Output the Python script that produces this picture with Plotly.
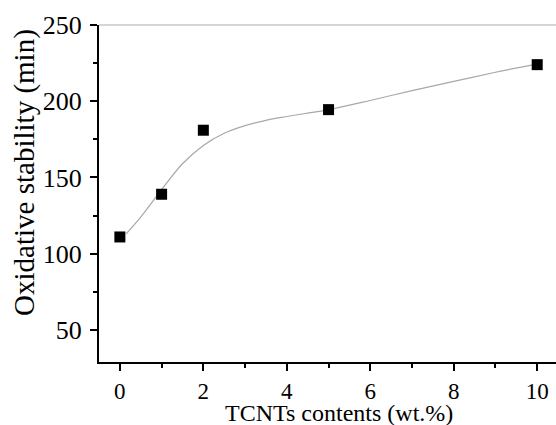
import plotly.graph_objects as go

# measured points
content_wt = [0, 1, 2, 5, 10]
oxidative_stability = [111, 139, 181, 194.5, 224]

# fitted curve
fit_x = [0.15, 0.5, 1.0, 1.5, 2.0, 2.5, 3.0, 3.5, 4.0, 5.0, 6.0, 7.0, 8.0, 9.0, 10.0]
fit_y = [113, 124, 142, 159, 171, 179, 184, 187.5, 190, 194.5, 200.5, 207, 213, 219, 224.5]

x_ticks = [0, 2, 4, 6, 8, 10]
y_ticks = [50, 100, 150, 200, 250]

x_title = "TCNTs contents (wt.%)"
y_title = "Oxidative stability (min)"

FONT = "Liberation Serif"

fig = go.Figure()
fig.add_trace(go.Scatter(x=fit_x, y=fit_y, mode="lines",
                         line=dict(color="#a8a8a8", width=1.2, shape="spline"),
                         showlegend=False, hoverinfo="skip"))
fig.add_trace(go.Scatter(x=content_wt, y=oxidative_stability, mode="markers",
                         marker=dict(symbol="square", size=11, color="black"),
                         showlegend=False))

fig.update_layout(
    width=556, height=425,
    margin=dict(l=99, r=0, t=25, b=63),
    plot_bgcolor="white", paper_bgcolor="white",
    font=dict(family=FONT, size=25, color="black"),
    xaxis=dict(range=[-0.5, 10.45], tickvals=x_ticks, showgrid=False, zeroline=False,
               showline=True, linecolor="black", linewidth=2,
               ticks="outside", ticklen=7, tickwidth=2, tickcolor="black",
               minor=dict(dtick=1, ticks="outside", ticklen=4, tickwidth=2, tickcolor="black"),
               tickfont=dict(family=FONT, size=23)),
    yaxis=dict(range=[29, 250], tickvals=y_ticks, showgrid=False, zeroline=False,
               showline=True, linecolor="black", linewidth=2,
               ticks="outside", ticklen=7, tickwidth=2, tickcolor="black",
               minor=dict(dtick=25, ticks="outside", ticklen=4, tickwidth=2, tickcolor="black"),
               tickfont=dict(family=FONT, size=26), ticklabelstandoff=3),
    annotations=[
        dict(text=x_title, xref="paper", yref="paper", x=0.525, y=-0.15,
             xanchor="center", yanchor="middle", showarrow=False, borderpad=0,
             font=dict(family=FONT, size=24)),
        dict(text=y_title, xref="paper", yref="paper", x=-0.162, y=0.564,
             xanchor="center", yanchor="middle", showarrow=False, textangle=-90,
             font=dict(family=FONT, size=29)),
    ],
)
fig.add_shape(type="line", xref="paper", yref="paper", x0=0, x1=1, y0=1, y1=1,
              line=dict(color="#c8c8c8", width=1.5))

fig.write_html("out.html")
